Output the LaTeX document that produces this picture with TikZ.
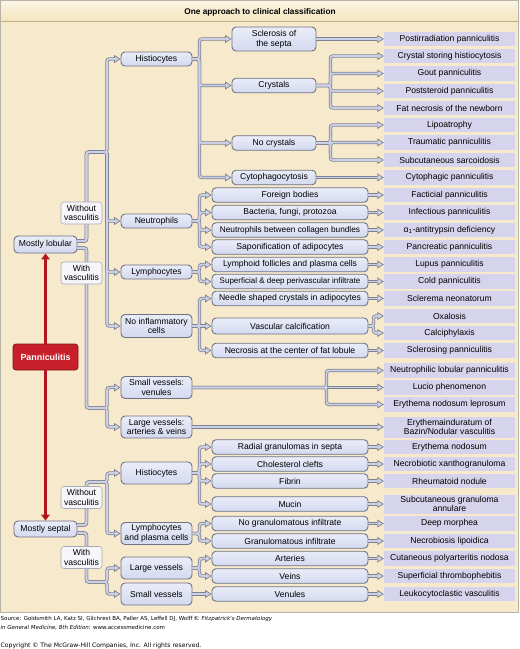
\documentclass[tikz,border=0pt]{standalone}
\usepackage{fontspec}
\setmainfont{Liberation Sans}
\newfontfamily\srcfont{DejaVu Sans}
\usetikzlibrary{arrows.meta}

\definecolor{chartbg}{RGB}{247,234,204}
\definecolor{barhi}{RGB}{250,245,230}
\definecolor{barlo}{RGB}{244,229,188}
\definecolor{barline}{RGB}{190,176,142}
\definecolor{frame}{RGB}{185,180,170}
\definecolor{boxfill}{RGB}{212,217,240}
\definecolor{boxedge}{RGB}{110,114,130}
\definecolor{leaffill}{RGB}{214,211,236}
\definecolor{pipefill}{RGB}{204,208,230}
\definecolor{pipeedge}{RGB}{126,129,146}
\definecolor{tagfill}{RGB}{246,246,250}
\definecolor{tagedge}{RGB}{168,170,184}
\definecolor{panred}{RGB}{200,32,42}
\definecolor{panedge}{RGB}{125,20,25}
\definecolor{redline}{RGB}{178,22,32}

\newcommand{\boxfont}{\fontsize{8.6}{9.6}\selectfont}

\tikzset{
  base/.style={draw=boxedge, line width=0.9pt, rounded corners=4pt, inner sep=1pt,
    align=center, font=\boxfont, top color=white!50!boxfill, bottom color=boxfill},
  grp/.style={base, minimum width=71pt, minimum height=14pt},
  subn/.style={base, minimum width=84pt, minimum height=14.5pt},
  subw/.style={base, minimum width=156pt, minimum height=14.5pt},
  leaf/.style={fill=leaffill, minimum width=131pt, minimum height=14.5pt, inner sep=1pt,
    align=center, font=\boxfont},
  tag/.style={draw=tagedge, fill=tagfill, line width=0.6pt, rounded corners=3pt,
    minimum width=41pt, minimum height=22pt, inner sep=0pt, align=center, font=\boxfont},
  panbox/.style={draw=panedge, fill=panred, line width=0.8pt, rounded corners=3pt,
    minimum width=65pt, minimum height=26pt, text=white,
    font=\bfseries\fontsize{8.9}{10}\selectfont},
  redarrow/.style={draw=redline, line width=2.2pt, -{Triangle[length=6pt, width=8.5pt]}},
  arr/.style={},
  pipeout/.style={every path/.style={draw=pipeedge, line width=3.4pt, rounded corners=2.5pt},
    arr/.style={-{Triangle[length=6.5pt, width=8pt, line width=0.7pt, color=pipeedge, fill=pipefill]}}},
  pipein/.style={every path/.style={draw=pipefill, line width=1.8pt, rounded corners=2.5pt},
    arr/.style={shorten >=2.5pt}},
}

% all connectors, drawn once for the rims and once for the insides
\newcommand{\pipes}{%
  \foreach \n in {lh,ln,ll,li}
    \draw[arr] ([yshift=3.5pt]lob.east) -- ++(9,0) |- (lwo) |- (\n);
  \foreach \n in {lsv,llv}
    \draw[arr] ([yshift=-3.5pt]lob.east) -- ++(9,0) |- (lwi) |- (\n);
  \foreach \n in {sh,slp}
    \draw[arr] ([yshift=4pt]sep.east) -- ++(9,0) |- (swo) |- (\n);
  \foreach \n in {slv,ssv}
    \draw[arr] ([yshift=-4pt]sep.east) -- ++(9,0) |- (swi) |- (\n);
  \foreach \n in {scl,cry,noc,cyt}
    \draw[arr] (lh.east) -- ++(7,0) |- (\n);
  \foreach \n in {fb,bac,nbc,sap}
    \draw[arr] (ln.east) -- ++(7,0) |- (\n);
  \foreach \n in {lym,sdp}
    \draw[arr] (ll.east) -- ++(7,0) |- (\n);
  \foreach \n in {nee,nec}
    \draw[arr] (li.east) -- ++(7,0) |- (\n);
  \foreach \n in {rad,cho,fib,muc}
    \draw[arr] (sh.east) -- ++(7,0) |- (\n);
  \foreach \n in {ngi,gri}
    \draw[arr] (slp.east) -- ++(7,0) |- (\n);
  \foreach \n in {art,vei}
    \draw[arr] (slv.east) -- ++(7,0) |- (\n);
  \foreach \n in {l2,l3,l4,l5}
    \draw[arr] (cry.east) -- ++(14,0) |- (\n);
  \foreach \n in {l6,l7,l8}
    \draw[arr] (noc.east) -- ++(14,0) |- (\n);
  \foreach \n in {l17,l18}
    \draw[arr] (vas.east) -- ++(5,0) |- (\n);
  \foreach \n in {l20,l22}
    \draw[arr] (lsv.east) -- ++(134,0) |- (\n);
  \foreach \a/\b in {li/vas, ssv/ven, scl/l1, cyt/l9, fb/l10, bac/l11, nbc/l12, sap/l13,
      lym/l14, sdp/l15, nee/l16, nec/l19, lsv/l21, llv/l23, rad/l24, cho/l25, fib/l26,
      muc/l27, ngi/l28, gri/l29, art/l30, vei/l31, ven/l32}
    \draw[arr] (\a) -- (\b);
}

\begin{document}
\begin{tikzpicture}[x=1pt, y=-1pt]
  \useasboundingbox (0,0) rectangle (520,649);

  % frame and title bar
  \fill[chartbg] (0,0) rectangle (519,613);
  \shade[top color=barhi, bottom color=barlo] (0,0) rectangle (519,21.5);
  \draw[barline, line width=0.8pt] (0,21.5) -- (519,21.5);
  \draw[frame, line width=0.8pt] (0.4,0.4) rectangle (518.6,612.6);
  \node[font=\bfseries\fontsize{8.3}{10}\selectfont] (title) at (260,12) {One approach to clinical classification};

  % left column
  \node[base, minimum width=63pt, minimum height=17pt] (lob) at (45.5,244.5) {Mostly lobular};
  \node[panbox] (pan) at (45.5,357) {Panniculitis};
  \node[base, minimum width=63pt, minimum height=16pt] (sep) at (45.5,529) {Mostly septal};

  \coordinate (lwo) at (107,152);
  \coordinate (lwi) at (107,408);
  \coordinate (swo) at (107,482);
  \coordinate (swi) at (107,582);

  % second column
  \node[grp] (lh) at (156.5,59) {Histiocytes};
  \node[grp] (ln) at (156.5,221) {Neutrophils};
  \node[grp] (ll) at (156.5,272) {Lymphocytes};
  \node[grp, minimum height=23pt] (li) at (156.5,326) {No inflammatory\\cells};
  \node[grp, minimum height=22pt] (lsv) at (156.5,387.5) {Small vessels:\\venules};
  \node[grp, minimum height=22pt] (llv) at (156.5,427) {Large vessels:\\arteries \& veins};
  \node[grp, minimum height=22pt] (sh) at (156.5,473) {Histiocytes};
  \node[grp, minimum height=22pt] (slp) at (156.5,533.5) {Lymphocytes\\and plasma cells};
  \node[grp, minimum height=22pt] (slv) at (156.5,568) {Large vessels};
  \node[grp, minimum height=22pt] (ssv) at (156.5,594) {Small vessels};

  % third column
  \node[subn, minimum height=24pt] (scl) at (274,39) {Sclerosis of\\the septa};
  \node[subn] (cry) at (274,85.5) {Crystals};
  \node[subn] (noc) at (274,143) {No crystals};
  \node[subn] (cyt) at (274,177.5) {Cytophagocytosis};
  \node[subw] (fb) at (290,195) {Foreign bodies};
  \node[subw] (bac) at (290,212.5) {Bacteria, fungi, protozoa};
  \node[subw, font=\fontsize{8.3}{9.6}\selectfont] (nbc) at (290,230) {Neutrophils between collagen bundles};
  \node[subw] (sap) at (290,247) {Saponification of adipocytes};
  \node[subw] (lym) at (290,264.5) {Lymphoid follicles and plasma cells};
  \node[subw, font=\fontsize{8}{9.6}\selectfont] (sdp) at (290,281.5) {Superficial \& deep perivascular infiltrate};
  \node[subw] (nee) at (290,298.5) {Needle shaped crystals in adipocytes};
  \node[subw, minimum height=16pt] (vas) at (290,326) {Vascular calcification};
  \node[subw] (nec) at (290,350.5) {Necrosis at the center of fat lobule};
  \node[subw] (rad) at (290,447) {Radial granulomas in septa};
  \node[subw] (cho) at (290,464) {Cholesterol clefts};
  \node[subw] (fib) at (290,481) {Fibrin};
  \node[subw] (muc) at (290,504) {Mucin};
  \node[subw] (ngi) at (290,523.5) {No granulomatous infiltrate};
  \node[subw] (gri) at (290,541) {Granulomatous infiltrate};
  \node[subw] (art) at (290,558.5) {Arteries};
  \node[subw] (vei) at (290,576) {Veins};
  \node[subw] (ven) at (290,594) {Venules};

  % diagnoses
  \node[leaf] (l1) at (449.5,39) {Postirradiation panniculitis};
  \node[leaf] (l2) at (449.5,56) {Crystal storing histiocytosis};
  \node[leaf] (l3) at (449.5,73.5) {Gout panniculitis};
  \node[leaf] (l4) at (449.5,91) {Poststeroid panniculitis};
  \node[leaf] (l5) at (449.5,108) {Fat necrosis of the newborn};
  \node[leaf] (l6) at (449.5,125) {Lipoatrophy};
  \node[leaf] (l7) at (449.5,142.5) {Traumatic panniculitis};
  \node[leaf] (l8) at (449.5,160) {Subcutaneous sarcoidosis};
  \node[leaf] (l9) at (449.5,177.5) {Cytophagic panniculitis};
  \node[leaf] (l10) at (449.5,195) {Facticial panniculitis};
  \node[leaf] (l11) at (449.5,212.5) {Infectious panniculitis};
  \node[leaf] (l12) at (449.5,230) {α\textsubscript{1}-antitrypsin deficiency};
  \node[leaf] (l13) at (449.5,247) {Pancreatic panniculitis};
  \node[leaf] (l14) at (449.5,264.5) {Lupus panniculitis};
  \node[leaf] (l15) at (449.5,281.5) {Cold panniculitis};
  \node[leaf] (l16) at (449.5,298.5) {Sclerema neonatorum};
  \node[leaf] (l17) at (449.5,316) {Oxalosis};
  \node[leaf] (l18) at (449.5,333) {Calciphylaxis};
  \node[leaf] (l19) at (449.5,350.5) {Sclerosing panniculitis};
  \node[leaf] (l20) at (449.5,370.5) {Neutrophilic lobular panniculitis};
  \node[leaf] (l21) at (449.5,387.5) {Lucio phenomenon};
  \node[leaf] (l22) at (449.5,404.5) {Erythema nodosum leprosum};
  \node[leaf, minimum height=21pt] (l23) at (449.5,427) {Erythemainduratum of\\Bazin/Nodular vasculitis};
  \node[leaf] (l24) at (449.5,447) {Erythema nodosum};
  \node[leaf] (l25) at (449.5,464) {Necrobiotic xanthogranuloma};
  \node[leaf] (l26) at (449.5,481) {Rheumatoid nodule};
  \node[leaf, minimum height=19pt] (l27) at (449.5,504) {Subcutaneous granuloma\\annulare};
  \node[leaf] (l28) at (449.5,523.5) {Deep morphea};
  \node[leaf] (l29) at (449.5,541) {Necrobiosis lipoidica};
  \node[leaf] (l30) at (449.5,558.5) {Cutaneous polyarteritis nodosa};
  \node[leaf] (l31) at (449.5,576) {Superficial thrombophebitis};
  \node[leaf] (l32) at (449.5,594) {Leukocytoclastic vasculitis};

  \begin{scope}[pipeout] \pipes \end{scope}
  \begin{scope}[pipein] \pipes \end{scope}

  \node[tag] (lwot) at (81.5,213) {Without\\vasculitis};
  \node[tag] (lwit) at (81.5,273) {With\\vasculitis};
  \node[tag] (swot) at (81.5,497.5) {Without\\vasculitis};
  \node[tag] (swit) at (81.5,557.5) {With\\vasculitis};

  \draw[redarrow] (pan) -- (lob);
  \draw[redarrow] (pan) -- (sep);

  % source lines
  \node[anchor=west, inner sep=0pt, font=\srcfont\fontsize{5.5}{7}\selectfont] (src1) at (0.5,618.5)
    {Source: Goldsmith LA, Katz SI, Gilchrest BA, Paller AS, Leffell DJ, Wolff K: \textit{Fitzpatrick's Dermatology}};
  \node[anchor=west, inner sep=0pt, font=\srcfont\fontsize{5.5}{7}\selectfont] (src2) at (0.5,628)
    {\textit{in General Medicine, 8th Edition}: www.accessmedicine.com};
  \node[anchor=west, inner sep=0pt, font=\srcfont\fontsize{6.1}{7}\selectfont] (copy) at (0.5,645.5)
    {Copyright © The McGraw-Hill Companies, Inc. All rights reserved.};
\end{tikzpicture}
\end{document}
